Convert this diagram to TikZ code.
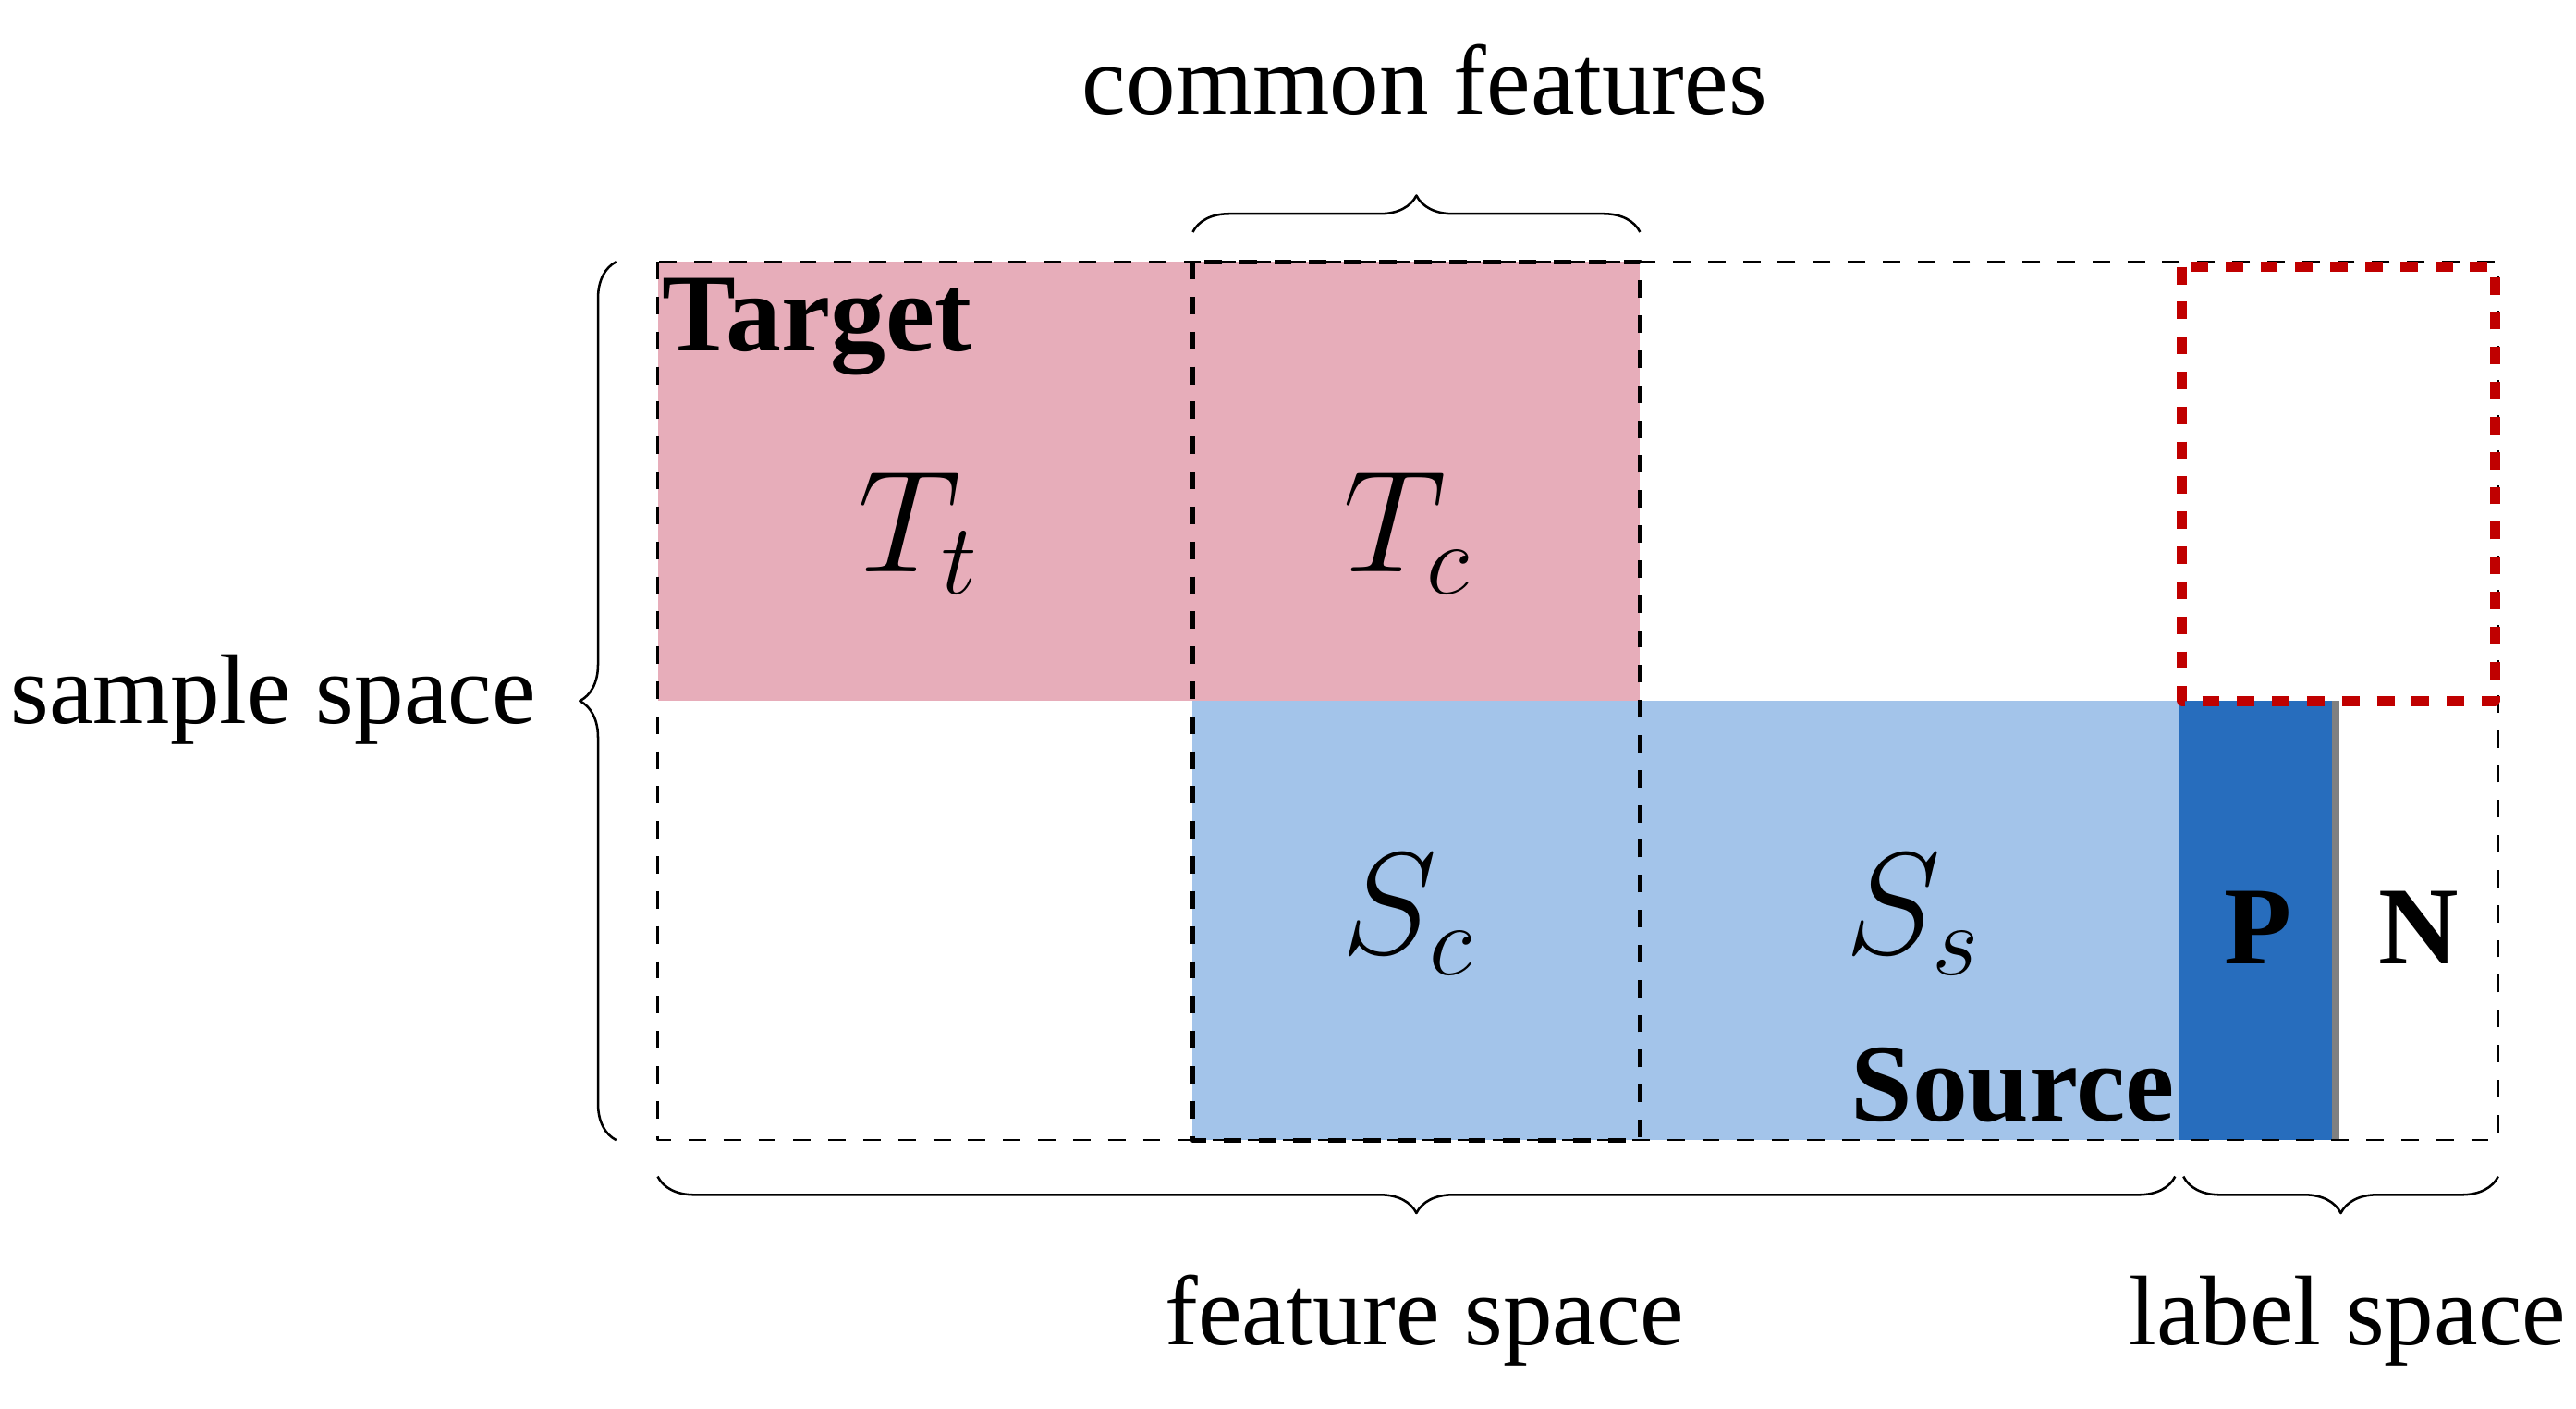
\documentclass[tikz,border=0pt]{standalone}
\usepackage{fontspec}
\setmainfont{Liberation Serif}
\usetikzlibrary{decorations.pathreplacing}
\definecolor{pinkT}{HTML}{E7ADBA}
\definecolor{blueS}{HTML}{A3C4EA}
\definecolor{blueP}{HTML}{276DBD}
\definecolor{redD}{HTML}{C00000}
\tikzset{
  brc/.style={decorate,decoration={brace,amplitude=0.22cm},thin},
  lbl/.style={font=\fontsize{17}{20}\selectfont},
  sym/.style={font=\fontsize{24}{28}\selectfont},
  bld/.style={font=\fontsize{19}{22}\selectfont\bfseries}
}
\begin{document}
\begin{tikzpicture}[x=0.01cm,y=-0.01cm,line join=round]
    \useasboundingbox (0,0) rectangle (1555,850);
    % blocks
    \fill[pinkT](397,158)rectangle(990,423);
    \fill[blueS](720,423)rectangle(1315,688);
    \fill[blueP](1315,423)rectangle(1410,688);
    \draw[gray,line width=1.2pt](1410,423)--(1410,688);
    % frames
    \draw[dashed,thin](397,158)rectangle(1508,688);
    \draw[dashed,thick](720,158)rectangle(990,688);
    \draw[dashed,redD,line width=1.8pt](1317,161)rectangle(1506,423);
    % texts
    \node[bld] (tg) at (493,197) {Target};
    \node[sym] (tt) at (555,322) {$T_t$};
    \node[sym] (tc) at (850,322) {$T_c$};
    \node[sym] (sc) at (850,552) {$S_c$};
    \node[sym] (ss) at (1155,552) {$S_s$};
    \node[bld] (src) at (1215,655) {Source};
    \node[bld] (p) at (1363,560) {P};
    \node[bld] (n) at (1460,560) {N};
    % braces
    \draw[brc](720,140)--(990,140);
    \node[lbl] (cf) at (860,48) {common features};
    \draw[brc](372,688)--(372,158);
    \node[lbl] (sp) at (165,422) {sample space};
    \draw[brc](1313,710)--(397,710);
    \node[lbl] (fs) at (860,797) {feature space};
    \draw[brc](1508,710)--(1318,710);
    \node[lbl] (ls) at (1417,797) {label space};
\end{tikzpicture}
\end{document}
